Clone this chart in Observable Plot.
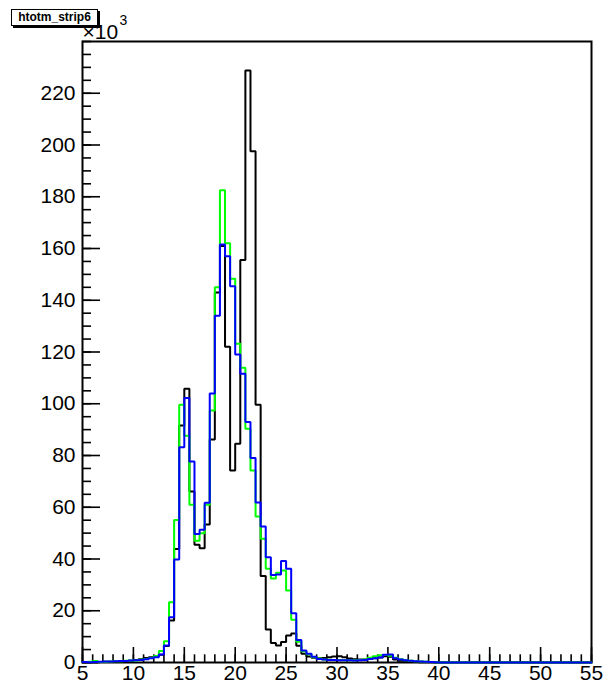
<!DOCTYPE html>
<html>
<head>
<meta charset="utf-8">
<script src="https://cdn.jsdelivr.net/npm/d3@7"></script>
<script src="https://cdn.jsdelivr.net/npm/@observablehq/plot@0.6"></script>
<style>
  body { margin: 0; background: #fff; }
  #wrap { position: relative; width: 609px; height: 690px; }
  #title {
    position: absolute; left: 11px; top: 9px; width: 85px; height: 15px;
    border: 1px solid #000; box-shadow: 2px 2px 0 #000; background: #fff;
    font: bold 12px "Liberation Sans", Arial, sans-serif; line-height: 15px;
    text-align: center; color: #000;
  }
</style>
</head>
<body>
<div id="wrap"><div id="chart"></div><div id="title">htotm_strip6</div></div>
<script>
// Histogram definition
const binLow = 5;
const binWidth = 0.5;
const xMin = 5, xMax = 55;
const yMin = 0, yMax = 240;

// Bin contents (in units of 10^3), bins of width 0.5 starting at 5
const blackCounts = [0.1,0.1,0.1,0.2,0.3,0.3,0.4,0.5,0.6,0.7,1.0,1.3,1.7,2.0,
  2.4,3.0,6.4,16.2,43.9,91.6,105.8,66.1,45.5,44.2,53.3,86.2,143,161,122,74.2,84.5,155.6,228.8,197.6,99.6,33.4,
  12.8,7.5,6.6,7.9,10.4,11.2,6.5,3.4,2.3,1.8,1.6,1.7,2.0,2.3,2.4,2.0,1.5,1.3,1.2,1.2,1.4,1.6,1.9,2.4,2.2,1.2,
  0.7,0.5,0.3,0.2,0.1,0.1,0.05,0];
const greenCounts = [0.2,0.3,0.6,0.2,0.3,0.4,0.5,0.5,0.7,0.8,0.8,1.1,1.4,1.7,
  2.5,4.4,8.2,23.3,55.1,99.6,87.6,61,47.1,50,61,97.4,145,182.5,162,148.3,123.2,113.9,90.3,74.2,56.4,47.8,
  36.2,32.5,34.7,35.6,27.8,16.5,8.0,4.3,3.2,2.0,1.5,1.2,1.1,1.0,1.0,0.9,0.9,0.9,1.0,1.2,1.8,2.4,2.8,2.9,2.6,1.8,
  1.3,0.9,0.7,0.5,0.4,0.3,0.2,0.1];
const blueCounts = [0.2,0.1,0.2,0.3,0.4,0.4,0.5,0.6,0.6,0.8,0.9,1.0,1.3,1.6,
  2.0,3.1,6.6,17.5,39.8,83.2,102.2,77.7,49.7,51.3,61.7,104,134,161.5,157,145.4,119,111.6,92.9,79,61.8,52.6,
  40.7,33.8,34,39.2,36.2,19,8.7,4.6,3.4,2.2,1.4,1.2,1.0,1.0,0.9,0.9,0.9,0.8,0.9,1.0,1.4,1.6,1.9,3.0,3.1,1.6,
  1.2,0.9,0.7,0.5,0.4,0.3,0.2,0.1];

// Axis ticks
const xMajor = [5,10,15,20,25,30,35,40,45,50,55];
const xMinor = d3.range(5, 56, 1);
const yMajor = [0,20,40,60,80,100,120,140,160,180,200,220];
const yMinor = d3.range(0, 241, 5);

function steps(vals) {
  const pts = [];
  vals.forEach((v, i) => {
    const x0 = binLow + i * binWidth;
    pts.push({x: x0, y: v}, {x: x0 + binWidth, y: v});
  });
  pts.push({x: binLow + vals.length * binWidth, y: 0}, {x: xMax, y: 0});
  return pts;
}

const font = '"Liberation Sans", Arial, Helvetica, sans-serif';

const chart = Plot.plot({
  width: 609,
  height: 690,
  marginLeft: 82,
  marginRight: 18,
  marginTop: 41,
  marginBottom: 28,
  style: {fontFamily: font, fontSize: "21px", color: "#000", background: "#fff", overflow: "visible"},
  x: {domain: [xMin, xMax], label: null},
  y: {domain: [yMin, yMax], label: null},
  marks: [
    // inward ticks
    Plot.ruleX(xMinor, {x: d => d, y1: yMin, y2: yMin, insetTop: -7.7, stroke: "#000", strokeWidth: 1.6}),
    Plot.ruleX(xMajor, {x: d => d, y1: yMin, y2: yMin, insetTop: -15, stroke: "#000", strokeWidth: 1.6}),
    Plot.ruleY(yMinor, {y: d => d, x1: xMin, x2: xMin, insetRight: -9, stroke: "#000", strokeWidth: 1.6}),
    Plot.ruleY(yMajor, {y: d => d, x1: xMin, x2: xMin, insetRight: -18, stroke: "#000", strokeWidth: 1.6}),
    Plot.frame({stroke: "#000", strokeWidth: 2}),
    // histograms
    Plot.line(steps(blackCounts), {x: "x", y: "y", stroke: "#000000", strokeWidth: 2, strokeLinejoin: "miter"}),
    Plot.line(steps(greenCounts), {x: "x", y: "y", stroke: "#00ff00", strokeWidth: 2, strokeLinejoin: "miter"}),
    Plot.line(steps(blueCounts), {x: "x", y: "y", stroke: "#0000ff", strokeWidth: 2, strokeLinejoin: "miter"}),
    // tick labels
    Plot.axisX(xMajor, {tickSize: 0, tickPadding: 3, fontSize: 21, fill: "#000", label: null}),
    Plot.axisY(yMajor, {tickSize: 0, tickPadding: 7, fontSize: 21, fill: "#000", label: null}),
    // exponent label
    Plot.text(["×10"], {frameAnchor: "top-left", text: d => d, textAnchor: "start", lineAnchor: "bottom", dx: 0, dy: -3, fontSize: 21, fill: "#000"}),
    Plot.text(["3"], {frameAnchor: "top-left", text: d => d, textAnchor: "start", lineAnchor: "bottom", dx: 37, dy: -17, fontSize: 14, fill: "#000"})
  ]
});
document.getElementById("chart").appendChild(chart);
</script>
</body>
</html>
